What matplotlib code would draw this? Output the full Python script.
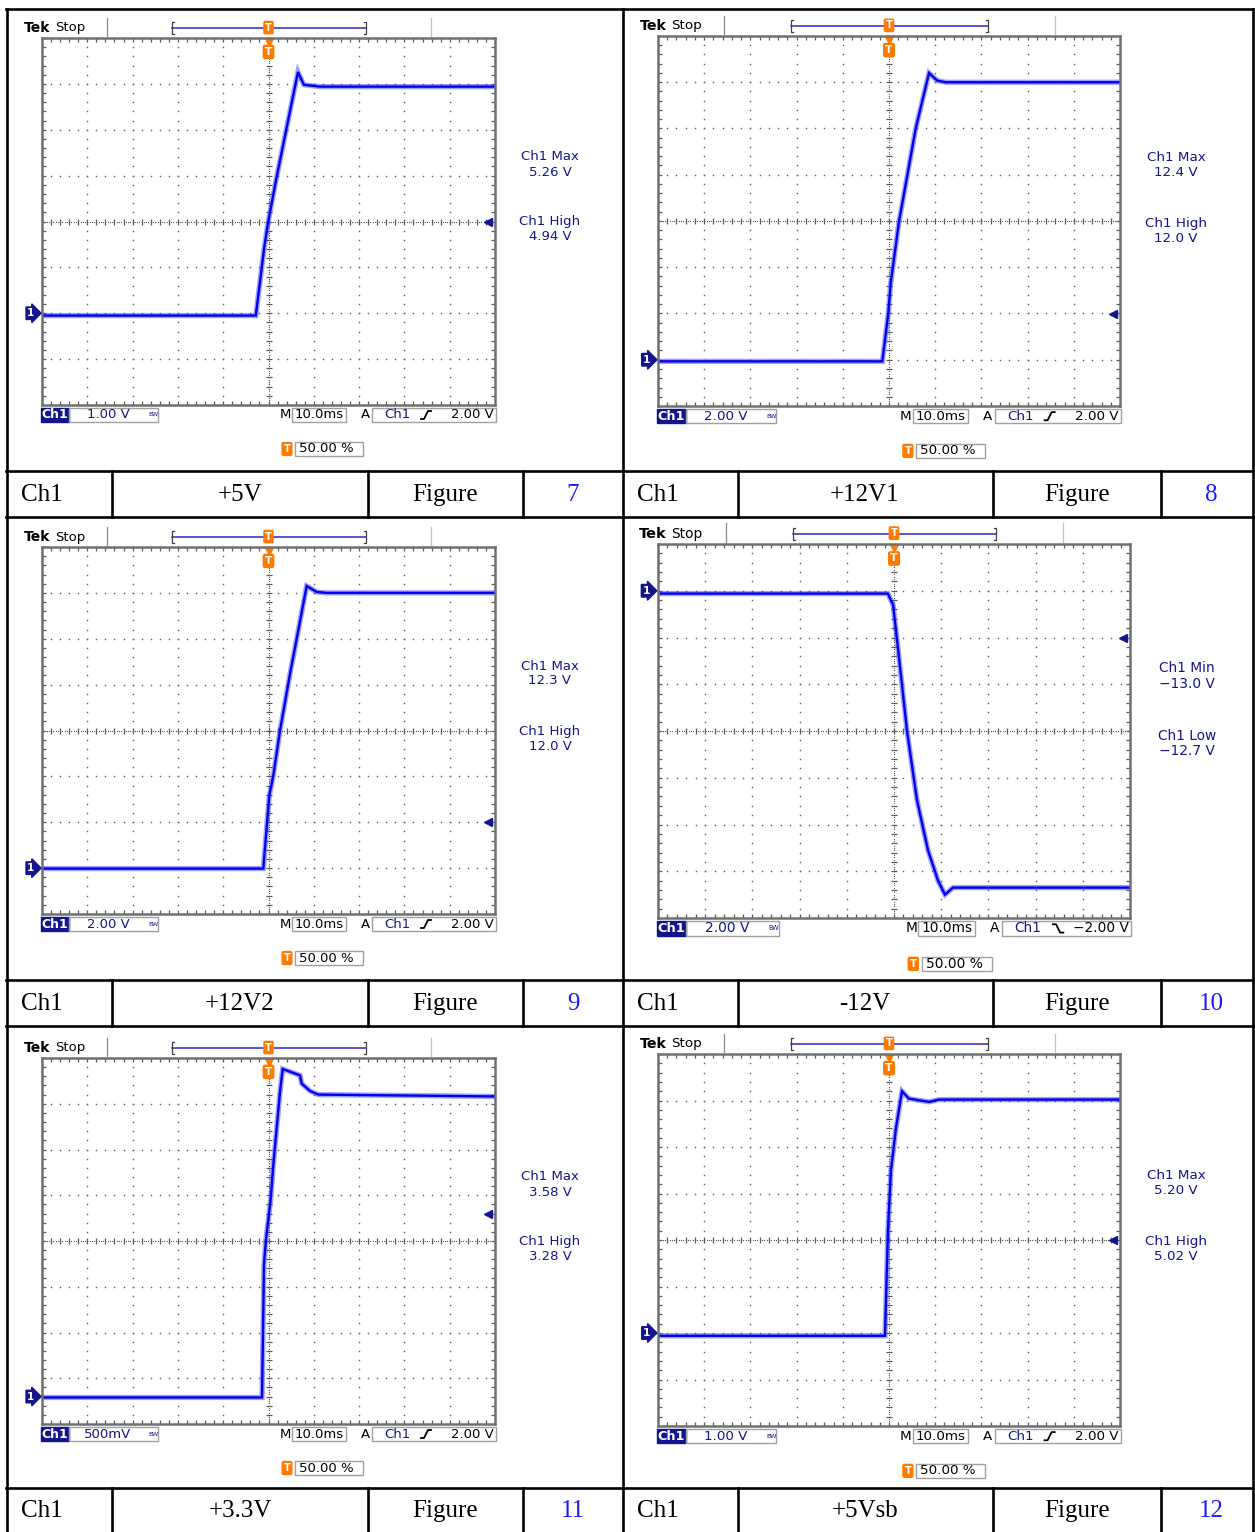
import matplotlib
matplotlib.use('Agg')
import matplotlib.pyplot as plt
import numpy as np
from matplotlib.patches import Rectangle

W, H = 1255, 1532

# rail names, figure numbers and scope settings for each capture
names = ['+5V', '+12V1', '+12V2', '-12V', '+3.3V', '+5Vsb']
fig_nums = ['7', '8', '9', '10', '11', '12']
volts_div = [1.0, 2.0, 2.0, 2.0, 0.5, 1.0]
scale_txt = ['1.00 V', '2.00 V', '2.00 V', '2.00 V', '500mV', '1.00 V']
gnd_div = [-2.0, -3.0, -3.0, 3.0, -3.4, -2.0]          # ground marker, divisions from centre
trig_level = [2.0, 2.0, 2.0, -2.0, 2.0, 2.0]
trig_txt = ['2.00 V', '2.00 V', '2.00 V', '\u22122.00 V', '2.00 V', '2.00 V']
trig_rising = [True, True, True, False, True, True]
meas_a = ['Ch1 Max', 'Ch1 Max', 'Ch1 Max', 'Ch1 Min', 'Ch1 Max', 'Ch1 Max']
meas_a_val = ['5.26 V', '12.4 V', '12.3 V', '\u221213.0 V', '3.58 V', '5.20 V']
meas_b = ['Ch1 High', 'Ch1 High', 'Ch1 High', 'Ch1 Low', 'Ch1 High', 'Ch1 High']
meas_b_val = ['4.94 V', '12.0 V', '12.0 V', '\u221212.7 V', '3.28 V', '5.02 V']

# captured waveforms: time (ms) / voltage (V)
t_5v = [-50, -2.8, -1.9, -1.0, -0.1, 1.7, 6.5, 7.8, 11.4, 50]
v_5v = [-0.05, -0.05, 0.67, 1.39, 1.98, 2.92, 5.26, 4.98, 4.94, 4.94]
t_12v1 = [-50, -1.45, -0.15, 0.37, 2.16, 5.78, 8.66, 10.46, 12.3, 50]
v_12v1 = [-0.07, -0.07, 2.02, 3.31, 5.97, 10.0, 12.4, 12.07, 12.0, 12.0]
t_12v2 = [-50, -1.15, 0.17, 1.06, 2.54, 4.75, 8.43, 10.64, 12.85, 50]
v_12v2 = [-0.02, -0.02, 3.16, 4.03, 6.0, 8.47, 12.3, 12.04, 12.0, 12.0]
t_n12v = [-50, -1.3, -0.2, 0.64, 2.75, 4.87, 7.2, 9.32, 10.8, 12.5, 50]
v_n12v = [-0.12, -0.12, -0.6, -2.09, -5.99, -8.96, -11.1, -12.4, -13.0, -12.7, -12.7]
t_3v3 = [-50, -1.43, -0.99, -0.55, 0.49, 1.06, 2.54, 3.13, 6.95, 7.33, 9.16, 11.0, 50]
v_3v3 = [-0.01, -0.01, 1.45, 1.72, 2.16, 2.53, 3.33, 3.58, 3.51, 3.42, 3.34, 3.30, 3.28]
t_5vsb = [-50, -0.87, -0.22, 0.43, 1.5, 2.81, 4.3, 8.7, 10.8, 50]
v_5vsb = [-0.06, -0.06, 2.22, 3.5, 4.4, 5.2, 5.04, 4.97, 5.02, 5.02]

traces = [(t_5v, v_5v), (t_12v1, v_12v1), (t_12v2, v_12v2),
          (t_n12v, v_n12v), (t_3v3, v_3v3), (t_5vsb, v_5vsb)]

# scope screen rectangles in pixels: left, top, right, bottom
screens = [(42, 38, 495, 405), (658, 36, 1120, 406),
           (42, 547, 495, 914), (658, 544, 1130, 918),
           (42, 1058, 495, 1424), (658, 1054, 1120, 1426)]

NAVY = '#14148c'
ORANGE = '#ff7a00'
GRID = '#5a5a5a'

fig = plt.figure(figsize=(W / 100, H / 100), dpi=100)
bg = fig.add_axes([0, 0, 1, 1])
bg.set_xlim(0, W)
bg.set_ylim(H, 0)
bg.axis('off')


def hline(y, x0, x1, lw=1.9):
    bg.plot([x0, x1], [y, y], color='k', lw=lw, solid_capstyle='projecting')


def vline(x, y0, y1, lw=1.9, color='k'):
    bg.plot([x, x], [y0, y1], color=color, lw=lw, solid_capstyle='projecting')


# table frame
hline(9, 6, 1254)
vline(7, 9, 1532)
vline(623, 9, 1532)
vline(1253, 9, 1532)
label_rows = [(471, 517), (980, 1026), (1488, 1532)]
for y0, y1 in label_rows:
    hline(y0, 6, 1254)
    if y1 < 1530:
        hline(y1, 6, 1254)
    for x in [112, 368, 523, 738, 993, 1161]:
        vline(x, y0, y1)

serif = dict(family='Liberation Serif', fontsize=18, va='center')
for r, (y0, y1) in enumerate(label_rows):
    yc = (y0 + y1) / 2 + 1
    for c in range(2):
        k = r * 2 + c
        x_ch, x_nm, x_fig, x_num = [(21, 240, 445, 573), (637, 865, 1077, 1211)][c]
        bg.text(x_ch, yc, 'Ch1', ha='left', **serif)
        bg.text(x_nm, yc, names[k], ha='center', **serif)
        bg.text(x_fig, yc, 'Figure', ha='center', **serif)
        bg.text(x_num, yc, fig_nums[k], ha='center', color='#1c1cff', **serif)


def edge_symbol(x, y, rising, s):
    d = 4 * s
    xs = [x - 5 * s, x - 2 * s, x + 2 * s, x + 5 * s]
    if rising:
        ys = [y + d, y + d, y - d, y - d]
    else:
        ys = [y - d, y - d, y + d, y + d]
    bg.plot(xs, ys, color='k', lw=1.3)


def box(x0, x1, yc, h, ec='#a0a0a0'):
    bg.add_patch(Rectangle((x0, yc - h / 2), x1 - x0, h, fill=False, ec=ec, lw=1.0))


for k, (L, T, R, B) in enumerate(screens):
    s = (R - L) / 453.0
    vdiv = volts_div[k]
    vc = -gnd_div[k] * vdiv

    ax = fig.add_axes([L / W, 1 - B / H, (R - L) / W, (B - T) / H])
    ax.set_xlim(-50, 50)
    ax.set_ylim(vc - 4 * vdiv, vc + 4 * vdiv)
    ax.set_xticks([])
    ax.set_yticks([])
    for sp in ax.spines.values():
        sp.set_color('#707070')
        sp.set_linewidth(1.8)
    tr = ax.transAxes

    # dotted graticule, one dot every 0.2 division
    yy = np.arange(1, 40) / 40
    xx = np.arange(1, 50) / 50
    for i in range(1, 10):
        if i != 5:
            ax.plot(np.full_like(yy, i / 10), yy, ls='none', marker='s', ms=1.0,
                    mew=0, color=GRID, transform=tr)
    for j in range(1, 8):
        if j != 4:
            ax.plot(xx, np.full_like(xx, j / 8), ls='none', marker='s', ms=1.0,
                    mew=0, color=GRID, transform=tr)
    # centre cross with minor ticks
    yd = np.arange(0, 161) / 160
    xd = np.arange(0, 201) / 200
    ax.plot(np.full_like(yd, 0.5), yd, ls='none', marker='s', ms=0.8, mew=0,
            color=GRID, transform=tr)
    ax.plot(xd, np.full_like(xd, 0.5), ls='none', marker='s', ms=0.8, mew=0,
            color=GRID, transform=tr)
    ax.plot(np.full_like(yy, 0.5), yy, ls='none', marker='_', ms=4, mew=0.9,
            color=GRID, transform=tr)
    ax.plot(xx, np.full_like(xx, 0.5), ls='none', marker='|', ms=4, mew=0.9,
            color=GRID, transform=tr)
    # ticks along the frame
    for y_edge in (0, 1):
        ax.plot(xx, np.full_like(xx, y_edge), ls='none', marker='|', ms=6, mew=0.9,
                color=GRID, transform=tr)
    for x_edge in (0, 1):
        ax.plot(np.full_like(yy, x_edge), yy, ls='none', marker='_', ms=6, mew=0.9,
                color=GRID, transform=tr)

    # waveform
    t, v = traces[k]
    ax.plot(t, v, color='#4040ff', lw=3.8, alpha=0.5, solid_joinstyle='miter')
    ax.plot(t, v, color='#0000ea', lw=1.7, solid_joinstyle='miter')

    # ground reference marker
    ax.annotate('1', xy=(0, 0), xycoords=('axes fraction', 'data'),
                xytext=(-8 * s, 0), textcoords='offset points', ha='center', va='center',
                color='white', fontsize=7.5 * s, fontweight='bold', annotation_clip=False,
                bbox=dict(boxstyle='rarrow,pad=0.12', fc=NAVY, ec=NAVY))
    # trigger level marker
    ax.plot([0.985], [trig_level[k]], marker='<', ms=6 * s, color=NAVY,
            transform=ax.get_yaxis_transform(), clip_on=False)
    # trigger position markers
    ax.plot([0], [0.99], marker='v', ms=6 * s, color=ORANGE,
            transform=ax.get_xaxis_transform(), clip_on=False)
    ax.annotate('T', xy=(0, 1), xycoords=('data', 'axes fraction'),
                xytext=(0, -10 * s), textcoords='offset points', ha='center', va='center',
                color='white', fontsize=7.5 * s, fontweight='bold', annotation_clip=False,
                bbox=dict(boxstyle='round,pad=0.15', fc=ORANGE, ec=ORANGE))
    ax.annotate('T', xy=(0, 1), xycoords=('data', 'axes fraction'),
                xytext=(0, 7.5 * s), textcoords='offset points', ha='center', va='center',
                color='white', fontsize=7 * s, fontweight='bold', annotation_clip=False,
                bbox=dict(boxstyle='round,pad=0.12', fc=ORANGE, ec=ORANGE))

    # header: Tek Stop and record bar
    yh = T - 10 * s
    bg.text(L - 18 * s, yh, 'Tek', fontsize=10 * s, fontweight='bold', ha='left', va='center')
    bg.text(L + 13 * s, yh, 'Stop', fontsize=9.5 * s, ha='left', va='center')
    vline(L + 65 * s, T - 20 * s, T - 2 * s, lw=0.9, color='#8a8a8a')
    vline(L + 389 * s, T - 20 * s, T - 2 * s, lw=0.9, color='#c0c0c0')
    x0b, x1b = L + 130 * s, L + 324 * s
    bg.plot([x0b, x1b], [yh, yh], color='#2a2ac0', lw=1.1)
    bg.plot([x0b + 2, x0b, x0b, x0b + 2], [yh - 6, yh - 6, yh + 6, yh + 6], color='#404040', lw=0.9)
    bg.plot([x1b - 2, x1b, x1b, x1b - 2], [yh - 6, yh - 6, yh + 6, yh + 6], color='#404040', lw=0.9)

    # measurement readouts
    xm = R + 55 * s
    meas = dict(fontsize=9.5 * s, color=NAVY, ha='center', va='center')
    bg.text(xm, T + 119 * s, meas_a[k], **meas)
    bg.text(xm, T + 134 * s, meas_a_val[k], **meas)
    bg.text(xm, T + 184 * s, meas_b[k], **meas)
    bg.text(xm, T + 199 * s, meas_b_val[k], **meas)

    # status line below the screen
    ys = B + 10 * s
    hb = 14 * s
    bg.add_patch(Rectangle((L - 1, ys - hb / 2), 28 * s, hb, fc=NAVY, ec=NAVY))
    bg.text(L + 13 * s, ys, 'Ch1', color='white', fontsize=9 * s, fontweight='bold',
            ha='center', va='center')
    box(L + 27 * s, L + 116 * s, ys, hb)
    bg.text(L + 66 * s, ys, scale_txt[k], color=NAVY, fontsize=9.5 * s, ha='center', va='center')
    bg.text(L + 111 * s, ys, 'BW', color=NAVY, fontsize=4.5 * s, ha='center', va='center')
    bg.text(L + 243 * s, ys, 'M', fontsize=9.5 * s, ha='center', va='center')
    box(L + 250 * s, L + 304 * s, ys, hb)
    bg.text(L + 277 * s, ys, '10.0ms', fontsize=9.5 * s, ha='center', va='center')
    bg.text(L + 323 * s, ys, 'A', fontsize=9.5 * s, ha='center', va='center')
    box(L + 330 * s, L + 454 * s, ys, hb)
    bg.text(L + 355 * s, ys, 'Ch1', color=NAVY, fontsize=9.5 * s, ha='center', va='center')
    edge_symbol(L + 384 * s, ys, trig_rising[k], s)
    bg.text(L + 452 * s, ys, trig_txt[k], fontsize=9.5 * s, ha='right', va='center')

    # trigger position readout
    yp = B + 44 * s
    bg.text(L + 245 * s, yp, 'T', color='white', fontsize=7 * s, fontweight='bold',
            ha='center', va='center',
            bbox=dict(boxstyle='round,pad=0.15', fc=ORANGE, ec=ORANGE))
    box(L + 253 * s, L + 321 * s, yp, hb)
    bg.text(L + 257 * s, yp, '50.00 %', fontsize=9.5 * s, ha='left', va='center')

fig.savefig('out.png', dpi=100)
